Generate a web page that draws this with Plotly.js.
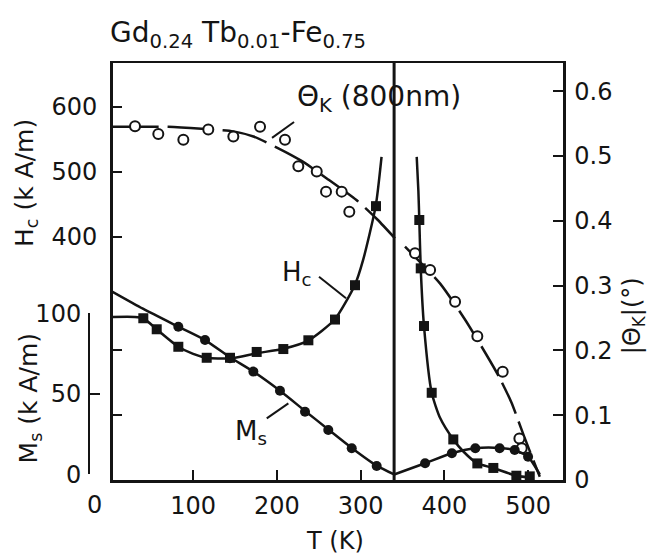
<!DOCTYPE html>
<html>
<head>
<meta charset="utf-8">
<script src="https://cdn.plot.ly/plotly-3.0.1.min.js"></script>
<style>html,body{margin:0;padding:0;background:#fff;}#chart{width:648px;height:555px;}</style>
</head>
<body>
<div id="chart"></div>
<script>
// ---- data ----
const T_COMP = 340; // compensation temperature (vertical line), K

// Kerr rotation |ΘK| (deg), open circles
const thetaT = [30.6, 58.4, 88.3, 118.1, 148, 179.9, 209.7, 225.6, 247.6, 258.7, 277.4, 286.5, 365, 383, 412.8, 439.4, 469.7, 489.6, 492.4];
const thetaV = [0.546, 0.534, 0.525, 0.541, 0.530, 0.545, 0.525, 0.484, 0.476, 0.445, 0.445, 0.414, 0.350, 0.324, 0.275, 0.222, 0.167, 0.064, 0.049];
// drawn ΘK curve (two branches)
const thetaFitT1 = [3.7, 70, 110, 148, 172, 200, 230, 260, 295, 320, 341];
const thetaFit1 = [0.545, 0.545, 0.542, 0.538, 0.530, 0.513, 0.492, 0.465, 0.432, 0.402, 0.373];
const thetaFitT2 = [353, 395, 425, 449, 465, 480, 495, 514];
const thetaFit2 = [0.360, 0.303, 0.247, 0.196, 0.160, 0.120, 0.068, 0.005];

// Coercivity Hc (kA/m), filled squares
const hcT = [40.5, 56.5, 82.3, 116.2, 144, 175.9, 207.7, 237.6, 269.4, 293.3, 318.4, 370.1, 371.8, 375.7, 384.9, 410.7, 439.4, 458.5, 486, 502];
const hcV = [274, 257, 230, 213, 213, 222, 226.5, 240, 272, 325, 447, 425.6, 351, 262, 159, 87, 50, 43, 31, 30];
const hcFitT1 = [3.7, 30, 40.5, 56.5, 82.3, 100, 116, 144, 176, 208, 238, 269, 293, 303, 318, 325];
const hcFit1 = [276, 276, 274, 257, 230, 219, 213, 212, 220, 227, 240, 272, 325, 364, 447, 523];
const hcFitT2 = [367, 369, 370.1, 371.8, 375.7, 384.9, 395, 410.7, 423, 439.4, 458.5, 486, 505];
const hcFit2 = [523, 470, 425.6, 351, 262, 159, 120, 87, 68, 50, 43, 31, 28];

// Saturation magnetisation Ms (kA/m), filled circles
const msT = [82.3, 114.2, 144, 171.9, 203.7, 233.6, 261.4, 289.4, 319.2, 377, 409, 437, 466, 484, 500];
const msV = [91.8, 83.5, 72.2, 63.9, 52, 39, 27.6, 16.3, 5.3, 7, 13.2, 16.3, 16.3, 15.2, 11];
const msFitT1 = [3.7, 40, 82.3, 114.2, 144, 171.9, 203.7, 233.6, 261.4, 289.4, 319.2, 340];
const msFit1 = [113.5, 103, 91.8, 83.5, 72.8, 63.9, 52, 39.5, 28, 16.5, 5.5, 0];
const msFitT2 = [340, 377, 409, 437, 466, 484, 500, 514];
const msFit2 = [0, 7, 13.2, 16.3, 16.5, 15.2, 11, 0];

// tick labels
const xTicks = [100, 200, 300, 400, 500];
const hcTicks = [400, 500, 600];
const msTicks = [0, 50, 100];
const thetaTicks = [0, 0.1, 0.2, 0.3, 0.4, 0.5, 0.6];
const thetaTickText = ['0', '0.1', '0.2', '0.3', '0.4', '0.5', '0.6'];

// ---- styling ----
const INK = '#141414';
const FONT = 'DejaVu Sans';
const LW = 2.5;

function line(x, y, ax, dash) {
  return {x: x, y: y, yaxis: ax, mode: 'lines', hoverinfo: 'skip',
    line: {color: INK, width: LW, shape: 'spline', smoothing: 0.6, dash: dash || 'solid'}};
}
const traces = [
  line(thetaFitT1, thetaFit1, 'y2', '46px,9px'),
  line(thetaFitT2, thetaFit2, 'y2', '34px,8px'),
  line(hcFitT1, hcFit1, 'y'),
  line(hcFitT2, hcFit2, 'y'),
  line(msFitT1, msFit1, 'y3'),
  line(msFitT2, msFit2, 'y3'),
  {x: [T_COMP, T_COMP], y: [0, 0.6435], yaxis: 'y2', mode: 'lines',
   line: {color: INK, width: 3}, hoverinfo: 'skip'},
  {x: thetaT, y: thetaV, yaxis: 'y2', mode: 'markers', cliponaxis: false,
   marker: {symbol: 'circle', size: 10, color: '#fff', line: {color: INK, width: 2}}},
  {x: hcT, y: hcV, yaxis: 'y', mode: 'markers', cliponaxis: false,
   marker: {symbol: 'square', size: 10, color: INK}},
  {x: msT, y: msV, yaxis: 'y3', mode: 'markers', cliponaxis: false,
   marker: {symbol: 'circle', size: 10, color: INK}},
  {x: [], y: [], yaxis: 'y4', mode: 'markers'},
  {x: [], y: [], yaxis: 'y5', mode: 'markers'}
];

const axBase = {showgrid: false, zeroline: false, showline: true, linecolor: INK, linewidth: LW,
  ticks: 'inside', tickcolor: INK, tickwidth: 2, ticklen: 10,
  tickfont: {family: FONT, size: 24, color: INK}};

const layout = {
  width: 648, height: 555,
  margin: {l: 80, r: 85, t: 63, b: 75},
  paper_bgcolor: '#fff', plot_bgcolor: 'rgba(0,0,0,0)',
  showlegend: false, hovermode: false,
  title: {text: 'Gd<sub>0.24</sub> Tb<sub>0.01</sub>-Fe<sub>0.75</sub>',
    x: 110 / 648, xanchor: 'left', xref: 'container', y: 1 - 32 / 555, yanchor: 'middle', yref: 'container',
    font: {family: FONT, size: 28, color: INK}},
  xaxis: Object.assign({}, axBase, {domain: [0.0673, 1], range: [3.7, 541.7], tickvals: xTicks,
    mirror: true, anchor: 'y', ticklabelstandoff: 3}),
  yaxis: Object.assign({}, axBase, {range: [24.4, 667.9], tickvals: hcTicks, ticklen: 9,
    side: 'left', anchor: 'x', ticklabelstandoff: 8}),
  yaxis2: Object.assign({}, axBase, {range: [0, 0.6435], tickvals: thetaTicks, ticktext: thetaTickText,
    overlaying: 'y', side: 'right', anchor: 'x', ticklabelstandoff: 4}),
  yaxis3: {range: [-3.42, 255.6], overlaying: 'y', visible: false, anchor: 'x'},
  yaxis4: Object.assign({}, axBase, {domain: [0.0132, 0.3993], range: [0, 100], tickvals: msTicks,
    anchor: 'free', position: 0.0186, side: 'left', ticklabelstandoff: 2}),
  yaxis5: Object.assign({}, axBase, {range: [0, 0.6435], tickvals: [0.1, 0.2], showticklabels: false,
    showline: false, ticklen: 9, overlaying: 'y', side: 'left', anchor: 'x'}),
  shapes: [
    {type: 'line', xref: 'x', yref: 'y2', x0: 194.2, y0: 0.528, x1: 220.5, y1: 0.5525, line: {color: INK, width: 2}},
    {type: 'line', xref: 'x', yref: 'y', x0: 250.3, y0: 338, x1: 282.6, y1: 304.8, line: {color: INK, width: 2}},
    {type: 'line', xref: 'x', yref: 'y3', x0: 187.9, y0: 34.9, x1: 213.7, y1: 44.2, line: {color: INK, width: 2}}
  ],
  annotations: [
    {text: 'Θ<sub>K</sub> (800nm)', xref: 'paper', yref: 'paper', x: 0.445, y: 0.915, xanchor: 'left', yanchor: 'middle',
     showarrow: false, font: {family: FONT, size: 28, color: INK}},
    {text: 'H<sub>c</sub>', xref: 'paper', yref: 'paper', x: 0.414, y: 0.495, xanchor: 'left', yanchor: 'middle',
     showarrow: false, font: {family: FONT, size: 26, color: INK}},
    {text: 'M<sub>s</sub>', xref: 'paper', yref: 'paper', x: 0.317, y: 0.115, xanchor: 'left', yanchor: 'middle',
     showarrow: false, font: {family: FONT, size: 26, color: INK}},
    {text: 'H<sub>c</sub> (k A/m)', xref: 'paper', yref: 'paper', x: -0.112, y: 0.712, xanchor: 'center', yanchor: 'middle',
     textangle: -90, showarrow: false, font: {family: FONT, size: 25, color: INK}},
    {text: 'M<sub>s</sub> (k A/m)', xref: 'paper', yref: 'paper', x: -0.104, y: 0.195, xanchor: 'center', yanchor: 'middle',
     textangle: -90, showarrow: false, font: {family: FONT, size: 25, color: INK}},
    {text: '|Θ<sub>K</sub>|(°)', xref: 'paper', yref: 'paper', x: 1.145, y: 0.393, xanchor: 'center', yanchor: 'middle',
     textangle: -90, showarrow: false, font: {family: FONT, size: 24, color: INK}},
    {text: 'T (K)', xref: 'paper', yref: 'paper', x: 0.528, y: -0.146, xanchor: 'center', yanchor: 'middle',
     showarrow: false, font: {family: FONT, size: 24, color: INK}},
    {text: '0', xref: 'paper', yref: 'paper', x: 0.031, y: -0.06, xanchor: 'center', yanchor: 'middle',
     showarrow: false, font: {family: FONT, size: 24, color: INK}}
  ]
};

Plotly.newPlot('chart', traces, layout, {staticPlot: true, displayModeBar: false});
</script>
</body>
</html>
